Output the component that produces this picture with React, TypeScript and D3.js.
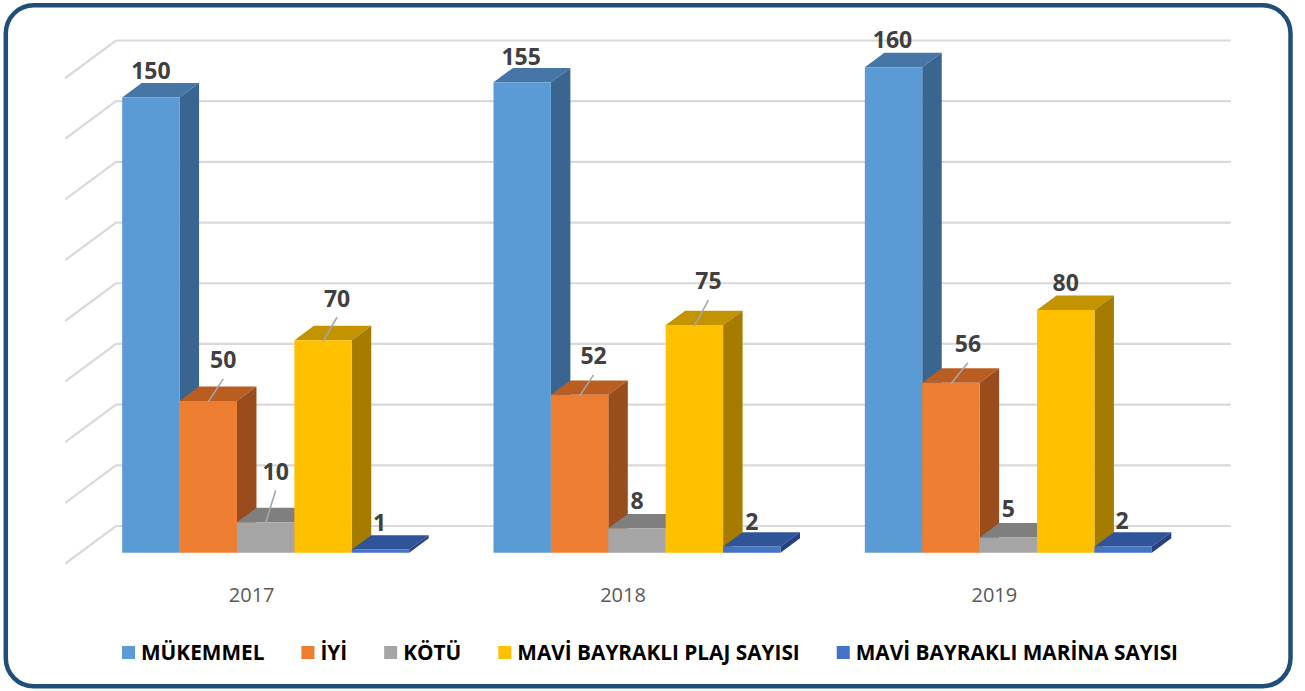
import React, { useEffect, useRef } from "react";
import * as d3 from "d3";

const years = ["2017", "2018", "2019"];
const seriesNames = [
  "MÜKEMMEL",
  "İYİ",
  "KÖTÜ",
  "MAVİ BAYRAKLI PLAJ SAYISI",
  "MAVİ BAYRAKLI MARİNA SAYISI",
];
const mukemmel = [150, 155, 160];
const iyi = [50, 52, 56];
const kotu = [10, 8, 5];
const plaj = [70, 75, 80];
const marina = [1, 2, 2];
const seriesValues = [mukemmel, iyi, kotu, plaj, marina];
const yTicks = [0, 20, 40, 60, 80, 100, 120, 140, 160];

// styling / layout (not data)
const frontColors = ["#5B9BD5", "#ED7D31", "#A5A5A5", "#FFC000", "#4472C4"];
const topColors = ["#4676A6", "#B95D21", "#7F7F7F", "#C39300", "#30549A"];
const sideColors = ["#3A6590", "#9A4D1C", "#6C6C6C", "#A67C00", "#283F82"];
// label nudges [dx, dy] relative to bar front-top centre, per year per series
const labelNudges = [
  [[0, -27], [15, -41], [10, -51], [14, -42], [-1, -27]],
  [[-1, -26], [14, -39], [0, -28], [14, -44], [0, -25]],
  [[-1, -27], [17, -39], [0, -29], [0, -27], [-1, -26]],
];

export default function App() {
  const ref = useRef<SVGSVGElement>(null);

  useEffect(() => {
    const svg = d3.select(ref.current);
    svg.selectAll("*").remove();

    const Y0 = 563; // front floor y at value 0
    const DX = 50, DY = -37; // full depth vector
    const F0 = 0.28, F1 = 0.67; // bar depth span
    const xFloor0 = 66, xFloor1 = 1180;

    const h = d3.scaleLinear().domain([0, 160]).range([0, 485.5]);
    const xBand = d3.scaleBand<string>().domain(years).range([xFloor0, xFloor1]).padding(0);
    const groupW = 287;
    const inner = d3.scaleBand<string>().domain(seriesNames).range([0, groupW]).padding(0);

    const P = (x: number, v: number, d: number): [number, number] => [
      x + DX * d,
      Y0 - h(v) + DY * d,
    ];

    // border
    svg.append("rect")
      .attr("x", 5.8).attr("y", 5.3)
      .attr("width", 1284.7).attr("height", 681)
      .attr("rx", 28).attr("ry", 28)
      .attr("fill", "#FFFFFF")
      .attr("stroke", "#1F4E79")
      .attr("stroke-width", 4.5);

    // gridlines
    const grid = svg.append("g")
      .attr("stroke", "#D9D9D9")
      .attr("stroke-width", 2.2)
      .attr("stroke-linecap", "round")
      .attr("fill", "none");
    yTicks.forEach((t) => {
      const a = P(xFloor0, t, 0), b = P(xFloor0, t, 1), c = P(xFloor1, t, 1);
      grid.append("path").attr("d", `M${a[0]},${a[1]}L${b[0]},${b[1]}L${c[0]},${c[1]}`);
    });

    const line = (pts: [number, number][]) => "M" + pts.map((p) => p.join(",")).join("L") + "Z";

    const bars = svg.append("g");
    const labels = svg.append("g");

    years.forEach((yr, i) => {
      const gx = (xBand(yr) as number) + (xBand.bandwidth() - groupW) / 2;
      seriesNames.forEach((s, j) => {
        const v = seriesValues[j][i];
        const x0 = gx + (inner(s) as number);
        const x1 = x0 + inner.bandwidth();
        const g = bars.append("g");
        g.append("path")
          .attr("d", line([P(x0, v, F0), P(x1, v, F0), P(x1, v, F1), P(x0, v, F1)]))
          .attr("fill", topColors[j]);
        g.append("path")
          .attr("d", line([P(x1, 0, F0), P(x1, v, F0), P(x1, v, F1), P(x1, 0, F1)]))
          .attr("fill", sideColors[j]);
        g.append("path")
          .attr("d", line([P(x0, 0, F0), P(x1, 0, F0), P(x1, v, F0), P(x0, v, F0)]))
          .attr("fill", frontColors[j]);

        const [cx, cyTop] = P((x0 + x1) / 2, v, F0);
        const [ndx, ndy] = labelNudges[i][j];
        const lx = cx + ndx, ly = cyTop + ndy;
        if (ndy < -33) {
          labels.append("line")
            .attr("x1", cx).attr("y1", cyTop + 1)
            .attr("x2", lx).attr("y2", ly + 19)
            .attr("stroke", "#A6A6A6")
            .attr("stroke-width", 1.6);
        }
        labels.append("text")
          .attr("x", lx).attr("y", ly + 8.3)
          .attr("text-anchor", "middle")
          .attr("font-family", "'Open Sans', sans-serif")
          .attr("font-weight", 700)
          .attr("font-size", 23)
          .attr("fill", "#404040")
          .text(String(v));
      });

      svg.append("text")
        .attr("x", (xBand(yr) as number) + xBand.bandwidth() / 2)
        .attr("y", 602)
        .attr("text-anchor", "middle")
        .attr("font-family", "'Open Sans', sans-serif")
        .attr("font-size", 20)
        .attr("fill", "#595959")
        .text(yr);
    });

    // legend
    const leg = svg.append("g");
    const items = seriesNames.map((s, j) => {
      const g = leg.append("g");
      g.append("rect").attr("x", 0).attr("y", 646).attr("width", 13).attr("height", 13)
        .attr("fill", frontColors[j]);
      const t = g.append("text")
        .attr("x", 19).attr("y", 659.5)
        .attr("font-family", "'Open Sans', sans-serif")
        .attr("font-weight", 700)
        .attr("font-size", 20.8)
        .attr("fill", "#000000")
        .text(s);
      const w = (t.node() as SVGTextElement).getComputedTextLength();
      return { g, w: 19 + w };
    });
    const gap = 37;
    const total = d3.sum(items, (d) => d.w) + gap * (items.length - 1);
    let cx = 650 - total / 2;
    items.forEach((it) => {
      it.g.attr("transform", `translate(${cx},0)`);
      cx += it.w + gap;
    });
  }, []);

  return (
    <svg
      ref={ref}
      width={1305}
      height={691}
      style={{ position: "absolute", left: 0, top: 0, display: "block" }}
    />
  );
}
